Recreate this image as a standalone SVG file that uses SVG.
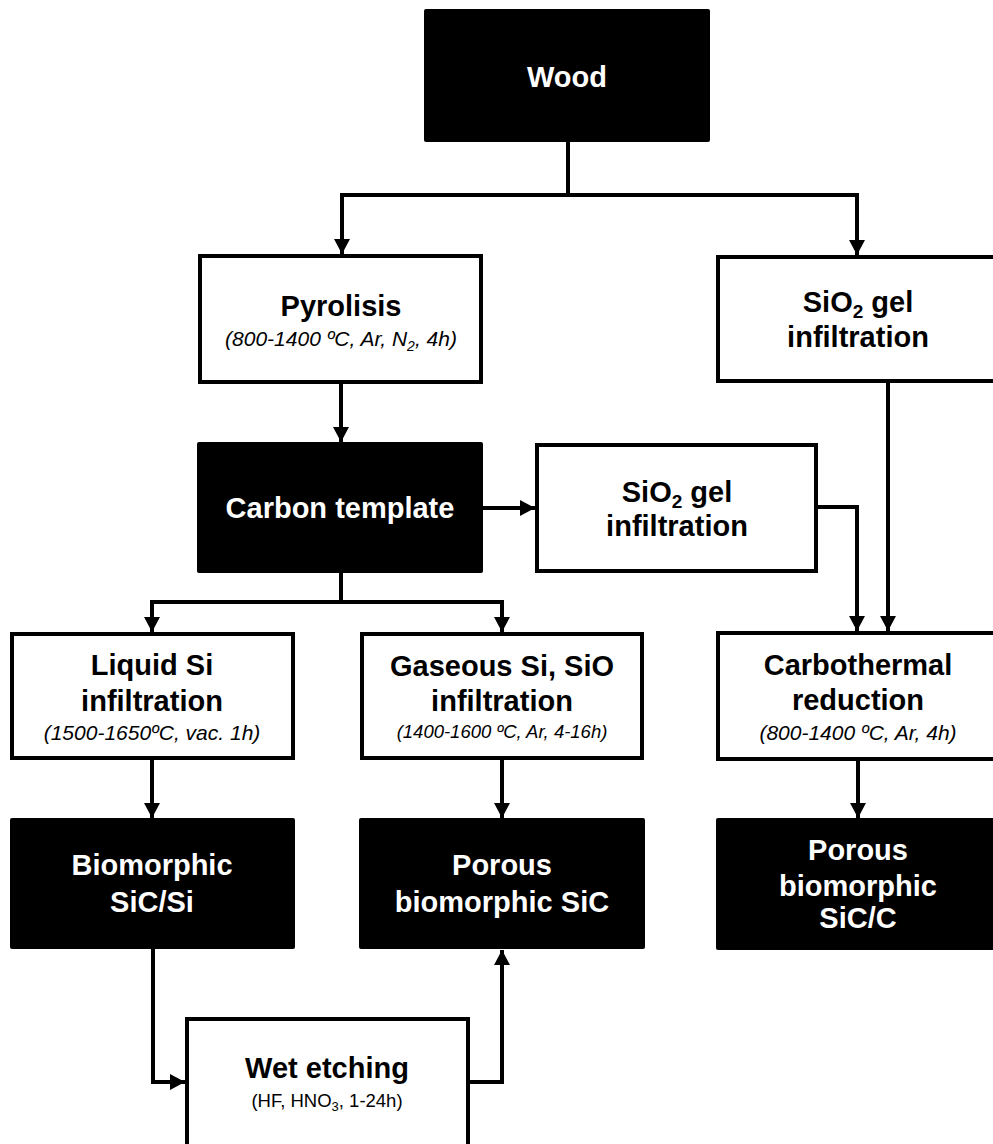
<svg xmlns="http://www.w3.org/2000/svg" width="993" height="1144" viewBox="0 0 993 1144">
<style>
.dark{fill:#000;stroke:none}
.light{fill:#fff;stroke:#000;stroke-width:4}
.t{font-family:"Liberation Sans",Arial,sans-serif;font-weight:bold;font-size:29px;text-anchor:middle}
.w{fill:#fff}
.b{fill:#000}
.s{font-family:"Liberation Sans",Arial,sans-serif;font-style:italic;font-size:21px;text-anchor:middle;fill:#000}
.s2{font-family:"Liberation Sans",Arial,sans-serif;font-style:italic;font-size:18.5px;text-anchor:middle;fill:#000}
.r{font-family:"Liberation Sans",Arial,sans-serif;font-size:18.5px;text-anchor:middle;fill:#000}
.c{fill:none;stroke:#000;stroke-width:4;marker-end:url(#ah)}
</style>
<defs>
<marker id="ah" markerUnits="userSpaceOnUse" markerWidth="16" markerHeight="16" refX="15" refY="8" orient="auto">
<path d="M0,0 L15,8 L0,16 z" fill="#000"/>
</marker>
</defs>
<rect width="993" height="1144" fill="#fff"/>
<g id="connectors">
<path class="c" d="M568,142 V195 H342 V254"/>
<path class="c" d="M568,195 H857 V255"/>
<path class="c" d="M341,384 V442"/>
<path class="c" d="M483,508 H535"/>
<path class="c" d="M818,507 H857 V631"/>
<path class="c" d="M888,383 V631"/>
<path class="c" d="M341,573 V602 H152 V632"/>
<path class="c" d="M341,602 H502 V632"/>
<path class="c" d="M152,760 V818"/>
<path class="c" d="M502,760 V818"/>
<path class="c" d="M858,761 V818"/>
<path class="c" d="M153,949 V1082 H185"/>
<path class="c" d="M470,1082 H502 V950"/>
</g>
<g id="wood">
<rect class="dark" x="424" y="9" width="286" height="133" rx="2"/>
<text class="t w" x="567" y="87">Wood</text>
</g>
<g id="pyrolisis">
<rect class="light" x="200" y="256" width="281" height="126"/>
<text class="t b" x="341" y="316">Pyrolisis</text>
<text class="s" x="341" y="346">(800-1400 ºC, Ar, N<tspan font-size="14" dy="5">2</tspan><tspan dy="-5">, 4h)</tspan></text>
</g>
<g id="sio2-gel-right">
<rect class="light" x="718" y="257" width="290" height="124"/>
<text class="t b" x="858" y="312">SiO<tspan font-size="19" dy="6">2</tspan><tspan dy="-6"> gel</tspan></text>
<text class="t b" x="858" y="347">infiltration</text>
</g>
<g id="carbon-template">
<rect class="dark" x="197" y="442" width="286" height="131" rx="2"/>
<text class="t w" x="340" y="518">Carbon template</text>
</g>
<g id="sio2-gel-mid">
<rect class="light" x="537" y="445" width="279" height="126"/>
<text class="t b" x="677" y="502">SiO<tspan font-size="19" dy="6">2</tspan><tspan dy="-6"> gel</tspan></text>
<text class="t b" x="677" y="536">infiltration</text>
</g>
<g id="liquid-si">
<rect class="light" x="12" y="634" width="281" height="124"/>
<text class="t b" x="152" y="675">Liquid Si</text>
<text class="t b" x="152" y="711">infiltration</text>
<text class="s" x="152" y="740">(1500-1650ºC, vac. 1h)</text>
</g>
<g id="gaseous-si">
<rect class="light" x="362" y="634" width="280" height="124"/>
<text class="t b" x="502" y="676">Gaseous Si, SiO</text>
<text class="t b" x="502" y="711">infiltration</text>
<text class="s2" x="502" y="738">(1400-1600 ºC, Ar, 4-16h)</text>
</g>
<g id="carbothermal">
<rect class="light" x="718" y="633" width="290" height="126"/>
<text class="t b" x="858" y="675">Carbothermal</text>
<text class="t b" x="858" y="710">reduction</text>
<text class="s" x="858" y="740">(800-1400 ºC, Ar, 4h)</text>
</g>
<g id="biomorphic-sic-si">
<rect class="dark" x="10" y="818" width="285" height="131" rx="2"/>
<text class="t w" x="152" y="875">Biomorphic</text>
<text class="t w" x="152" y="912">SiC/Si</text>
</g>
<g id="porous-sic">
<rect class="dark" x="359" y="818" width="286" height="131" rx="2"/>
<text class="t w" x="502" y="875">Porous</text>
<text class="t w" x="502" y="912">biomorphic SiC</text>
</g>
<g id="porous-sic-c">
<rect class="dark" x="716" y="818" width="300" height="132" rx="2"/>
<text class="t w" x="858" y="860">Porous</text>
<text class="t w" x="858" y="896">biomorphic</text>
<text class="t w" x="858" y="928">SiC/C</text>
</g>
<g id="wet-etching">
<rect class="light" x="187" y="1019" width="281" height="140"/>
<text class="t b" x="327" y="1078">Wet etching</text>
<text class="r" x="327" y="1107">(HF, HNO<tspan font-size="13" dy="4">3</tspan><tspan dy="-4">, 1-24h)</tspan></text>
</g>
</svg>
